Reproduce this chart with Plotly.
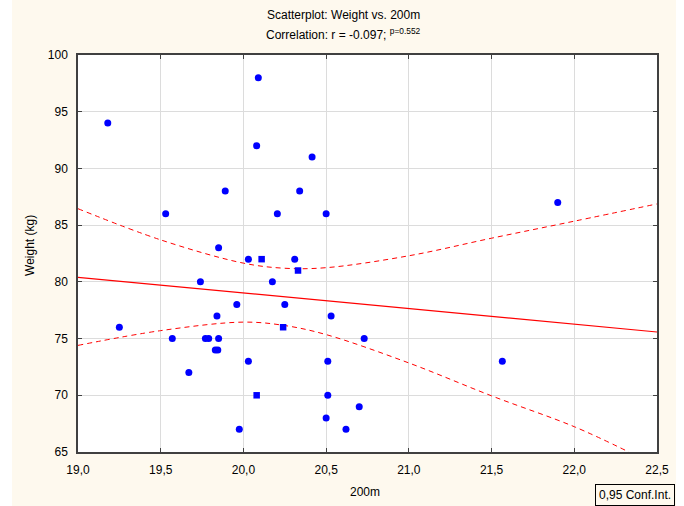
import plotly.graph_objects as go

# ---- data ----
x_circle = [19.18, 19.25, 19.53, 19.57, 19.67, 19.74, 19.77, 19.79, 19.84, 19.83,
            19.845, 19.85, 19.85, 19.89, 19.96, 19.975, 20.03, 20.03, 20.08, 20.09,
            20.175, 20.205, 20.25, 20.31, 20.34, 20.415, 20.50, 20.53, 20.51, 20.51,
            20.50, 20.62, 20.70, 20.73, 21.565, 21.90]
y_circle = [94, 76, 86, 75, 72, 80, 75, 75, 77, 74,
            74, 75, 83, 88, 78, 67, 82, 73, 92, 98,
            80, 86, 78, 82, 88, 91, 86, 77, 73, 70,
            68, 67, 69, 75, 73, 87]
x_square = [20.08, 20.11, 20.24, 20.33]
y_square = [70, 82, 76, 81]

reg_x = [19.0, 22.5]
reg_y = [80.4, 75.58]

ci_upper_x = [19.0, 19.5, 20.0, 20.25, 20.5, 21.0, 21.5, 22.0, 22.5]
ci_upper_y = [86.45, 83.7, 81.65, 81.2, 81.25, 82.3, 83.85, 85.35, 86.87]
ci_lower_x = [19.0, 19.5, 20.0, 20.25, 20.5, 21.0, 21.5, 22.0, 22.33]
ci_lower_y = [74.4, 75.7, 76.45, 76.15, 75.35, 72.85, 69.95, 67.23, 65.0]

x_tickvals = [19.0, 19.5, 20.0, 20.5, 21.0, 21.5, 22.0, 22.5]
x_ticktext = ["19,0", "19,5", "20,0", "20,5", "21,0", "21,5", "22,0", "22,5"]
y_tickvals = [65, 70, 75, 80, 85, 90, 95, 100]
y_ticktext = ["65", "70", "75", "80", "85", "90", "95", "100"]

title_line1 = "Scatterplot: Weight vs. 200m"
title_line2 = "Correlation: r = -0.097; <sup>p=0.552</sup>"
x_title = "200m"
y_title = "Weight (kg)"
legend_text = "0,95 Conf.Int."

# ---- figure ----
FONT = "Liberation Sans, Arial, sans-serif"
CREAM = "#FEF9EE"
RED = "#FF0000"
BLUE = "#0000FF"

fig = go.Figure()
fig.add_trace(go.Scatter(x=ci_upper_x, y=ci_upper_y, mode="lines",
                         line=dict(color=RED, width=1, dash="5px,4px", shape="spline", smoothing=1.0),
                         hoverinfo="skip"))
fig.add_trace(go.Scatter(x=ci_lower_x, y=ci_lower_y, mode="lines",
                         line=dict(color=RED, width=1, dash="5px,4px", shape="spline", smoothing=1.0),
                         hoverinfo="skip"))
fig.add_trace(go.Scatter(x=reg_x, y=reg_y, mode="lines",
                         line=dict(color=RED, width=1.2), hoverinfo="skip"))
fig.add_trace(go.Scatter(x=x_circle, y=y_circle, mode="markers",
                         marker=dict(color=BLUE, size=7, symbol="circle", line=dict(width=0))))
fig.add_trace(go.Scatter(x=x_square, y=y_square, mode="markers",
                         marker=dict(color=BLUE, size=6.5, symbol="square", line=dict(width=0))))

axis_common = dict(showline=True, linecolor="#404040", linewidth=1.5, mirror="ticks",
                   ticks="inside", ticklen=4, tickcolor="#404040", tickwidth=1,
                   showgrid=True, gridcolor="#DCDCDC", gridwidth=1, zeroline=False,
                   tickfont=dict(family=FONT, size=12, color="#000000"))

fig.update_xaxes(range=[19.0, 22.5], tickvals=x_tickvals, ticktext=x_ticktext,
                 ticklabelstandoff=6, **axis_common)
fig.update_yaxes(range=[65, 100], tickvals=y_tickvals, ticktext=y_ticktext,
                 ticklabelstandoff=6, **axis_common)

ann_font = dict(family=FONT, size=12, color="#000000")
fig.update_layout(
    width=684, height=506,
    margin=dict(l=78, r=27, t=55, b=54),
    paper_bgcolor=CREAM, plot_bgcolor="#FFFFFF",
    showlegend=False,
    annotations=[
        dict(text=title_line1, xref="paper", yref="paper", x=0.4594, y=1.1008,
             xanchor="center", yanchor="middle", showarrow=False, font=ann_font),
        dict(text=title_line2, xref="paper", yref="paper", x=0.4594, y=1.0529,
             xanchor="center", yanchor="middle", showarrow=False, font=ann_font),
        dict(text=x_title, xref="paper", yref="paper", x=0.4957, y=-0.1008,
             xanchor="center", yanchor="middle", showarrow=False, font=ann_font),
        dict(text=y_title, xref="paper", yref="paper", x=-0.0829, y=0.519,
             xanchor="center", yanchor="middle", showarrow=False, font=ann_font, textangle=-90),
        dict(text=legend_text, xref="paper", yref="paper", x=1.031, y=-0.0806,
             xanchor="right", yanchor="top", showarrow=False, font=ann_font,
             bordercolor="#000000", borderwidth=1, borderpad=3, bgcolor=CREAM),
    ],
    shapes=[
        dict(type="rect", xref="paper", yref="paper", x0=-0.1347, x1=-0.114, y0=-0.14, y1=1.14,
             fillcolor="#FFFFFF", line=dict(width=0), layer="above"),
        dict(type="rect", xref="paper", yref="paper", x0=1.0328, x1=1.05, y0=-0.14, y1=1.14,
             fillcolor="#FFFFFF", line=dict(width=0), layer="above"),
    ],
)

fig.write_html("out.html")
